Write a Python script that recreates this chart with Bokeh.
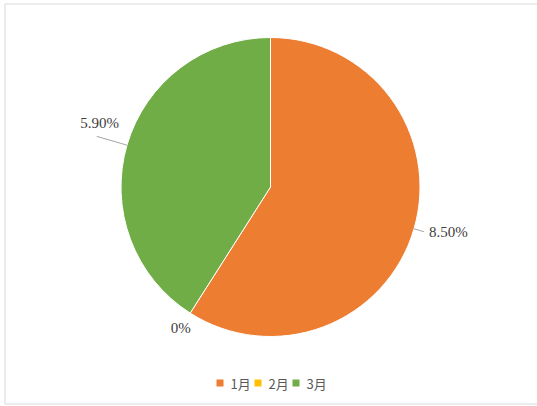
import math
from bokeh.plotting import figure
from bokeh.models import ColumnDataSource, Range1d
from bokeh.core.properties import value
from bokeh.embed import file_html
from bokeh.resources import INLINE

# ---- data ----
months = ["1月", "2月", "3月"]
values = [8.50, 0.0, 5.90]
labels = ["8.50%", "0%", "5.90%"]
colors = ["#ED7D31", "#FFC000", "#70AD47"]

# ---- layout (screen px -> data: x = sx, y = H - sy) ----
W, H = 537, 406
def dx(sx): return sx
def dy(sy): return H - sy

cx, cy = dx(270), dy(186.5)
R = 149.5
label_r = [160, 167, 181]
leader = [True, False, True]
text_off = [(5, 0, "left"), (0, 0, "center"), (3, -13, "center")]

p = figure(width=W, height=H, output_backend="svg", toolbar_location=None,
           x_range=Range1d(0, W), y_range=Range1d(0, H),
           min_border=0, min_border_left=0, min_border_right=0,
           min_border_top=0, min_border_bottom=0)
p.axis.visible = False
p.grid.visible = False
p.outline_line_color = None
p.background_fill_color = "white"
p.border_fill_color = "white"

# chart border
p.quad(left=[dx(4.5)], right=[W + 20], top=[dy(3.5)], bottom=[dy(403.5)],
       fill_color=None, line_color="#D9D9D9", line_width=1)

total = sum(values)
starts, ends, mids = [], [], []
acc = 0.0
for v in values:
    a0 = acc / total * 360.0
    acc += v
    a1 = acc / total * 360.0
    # clockwise from top -> bokeh angle (ccw from +x)
    starts.append(math.radians(90 - a1))
    ends.append(math.radians(90 - a0))
    mids.append((a0 + a1) / 2.0)

keep = [i for i, v in enumerate(values) if v > 0]
src = ColumnDataSource(dict(month=[months[i] for i in keep],
                            start=[starts[i] for i in keep],
                            end=[ends[i] for i in keep],
                            color=[colors[i] for i in keep]))
p.wedge(x=cx, y=cy, radius=R, start_angle="start", end_angle="end",
        fill_color="color", line_color="white", line_width=1, source=src)

for i, lab in enumerate(labels):
    m = math.radians(mids[i])
    ux, uy = math.sin(m), math.cos(m)  # data y up
    ex, ey = cx + label_r[i] * ux, cy + label_r[i] * uy
    if leader[i]:
        p.line([cx + R * ux, ex], [cy + R * uy, ey], line_color="#A6A6A6", line_width=1)
    ox, oy, al = text_off[i]
    p.text(x=[ex + ox], y=[ey - oy], text=[lab], text_align=al, text_baseline="middle",
           text_font=value("Liberation Serif"), text_font_size="15px", text_color="#404040")

# legend
for i, mth in enumerate(months):
    sx = 219.5 + 38 * i
    p.scatter(x=[dx(sx)], y=[dy(382.5)], marker="square", size=7,
              fill_color=colors[i], line_color=None)
    p.text(x=[dx(sx + 10.5)], y=[dy(382.5)], text=[mth], text_align="left",
           text_baseline="middle", text_font=value("Noto Sans CJK SC"),
           text_font_size="13px", text_color="#595959")

open("out.html", "w").write(file_html(p, INLINE))
